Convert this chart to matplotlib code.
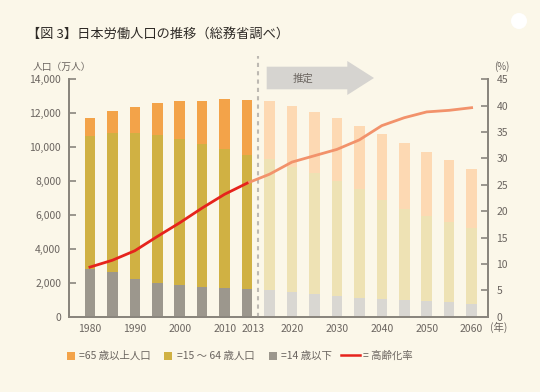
import numpy as np
import matplotlib.pyplot as plt
from matplotlib.patches import Rectangle, Polygon, Ellipse
from matplotlib.lines import Line2D

plt.rcParams['font.family'] = ['Noto Sans CJK JP', 'DejaVu Sans']

# data (万人 / %)
years = [1980, 1985, 1990, 1995, 2000, 2005, 2010, 2013,
         2015, 2020, 2025, 2030, 2035, 2040, 2045, 2050, 2055, 2060]
n_actual = 8
pop_0_14 = [2790, 2610, 2240, 1990, 1850, 1750, 1690, 1630,
            1590, 1455, 1335, 1220, 1120, 1045, 985, 925, 865, 770]
pop_15_64 = [7850, 8230, 8580, 8710, 8630, 8420, 8170, 7890,
             7680, 7345, 7110, 6775, 6385, 5830, 5375, 5005, 4730, 4435]
pop_65 = [1060, 1280, 1530, 1870, 2205, 2550, 2960, 3225,
          3415, 3630, 3630, 3690, 3730, 3885, 3870, 3770, 3650, 3475]
aging_rate = [9.4, 10.7, 12.5, 15.2, 17.8, 20.6, 23.2, 25.3,
              27.0, 29.3, 30.5, 31.7, 33.5, 36.2, 37.7, 38.8, 39.1, 39.6]
tick_years = ['1980', '1990', '2000', '2010', '2013',
              '2020', '2030', '2040', '2050', '2060']

bg = '#FBF7E9'
txt = '#6b6560'
axc = '#8a857d'
c65, c1564, c14 = '#F3A349', '#D0B143', '#9C978D'
l65, l1564, l14 = '#FDD9B3', '#EEE2B4', '#D9D7D2'
red, salmon = '#E6231C', '#F2926B'

fig = plt.figure(figsize=(5.4, 3.92), dpi=100, facecolor=bg)
ax = fig.add_axes([0.1287, 0.192, 0.775, 0.606], facecolor=bg)
ax2 = ax.twinx()

x = np.arange(len(years))
a = x < n_actual
f = ~a
p14 = np.array(pop_0_14)
p1564 = np.array(pop_15_64)
p65 = np.array(pop_65)
w = 0.47

ax.bar(x[a], p14[a], w, color=c14, zorder=2)
ax.bar(x[a], p1564[a], w, bottom=p14[a], color=c1564, zorder=2)
ax.bar(x[a], p65[a], w, bottom=(p14 + p1564)[a], color=c65, zorder=2)
ax.bar(x[f], p14[f], w, color=l14, zorder=2)
ax.bar(x[f], p1564[f], w, bottom=p14[f], color=l1564, zorder=2)
ax.bar(x[f], p65[f], w, bottom=(p14 + p1564)[f], color=l65, zorder=2)

rate = np.array(aging_rate)
ax2.plot(x[n_actual - 1:], rate[n_actual - 1:], color=salmon, lw=2, zorder=3)
ax2.plot(x[:n_actual], rate[:n_actual], color=red, lw=2, zorder=4)

ax.set_xlim(-0.91, len(years) - 0.27)
ax.set_ylim(0, 14000)
ax2.set_ylim(0, 45)

ax.set_yticks(np.arange(0, 14001, 2000))
ax.set_yticklabels([f'{v:,}' for v in range(0, 14001, 2000)])
ax2.set_yticks(np.arange(0, 46, 5))

# 2013 label nudged right so it does not touch 2010
tick_pos = [years.index(int(t)) + (0.25 if t == '2013' else 0) for t in tick_years]
ax.set_xticks(tick_pos)
ax.set_xticklabels(tick_years)

for s in ['top']:
    ax.spines[s].set_visible(False)
    ax2.spines[s].set_visible(False)
for s in ['left', 'right', 'bottom']:
    ax2.spines[s].set_color(axc)
    ax2.spines[s].set_linewidth(1.3)
    ax.spines[s].set_color(axc)
    ax.spines[s].set_linewidth(1.3)

ax.tick_params(axis='y', direction='in', length=5, width=1.2, color=axc,
               labelcolor=txt, labelsize=7.5, pad=6)
ax2.tick_params(axis='y', direction='in', length=5, width=1.2, color=axc,
                labelcolor=txt, labelsize=7.5, pad=6)
ax.tick_params(axis='x', length=0, labelcolor=txt, labelsize=7.5, pad=5)

# boundary between actual and estimate
ax.plot([n_actual - 0.5, n_actual - 0.5], [0, 15350], color='#BDB9B2',
        lw=1.5, ls=(0, (2, 2)), clip_on=False, zorder=5)

px = fig.dpi_scale_trans


def pt(xp, yp):
    return (xp / 100, (392 - yp) / 100)


arrow = [pt(266.7, 66.7), pt(347.3, 66.7), pt(347.3, 61), pt(374, 78),
         pt(347.3, 95), pt(347.3, 89.3), pt(266.7, 89.3)]
fig.add_artist(Polygon(arrow, closed=True, transform=px, facecolor='#D6D4D0',
                       edgecolor='none', zorder=6))
fig.text(303 / 540, 1 - 78.5 / 392, '推定', ha='center', va='center',
         fontsize=7.5, color=txt, zorder=7)

fig.add_artist(Ellipse(pt(519, 21), 0.16, 0.16, transform=px,
                       facecolor='white', edgecolor='none'))

fig.text(27 / 540, 1 - 34.5 / 392, '【図 3】日本労働人口の推移（総務省調べ）',
         ha='left', va='center', fontsize=9.5, color='#2e2a26')
fig.text(33 / 540, 1 - 66.5 / 392, '人口（万人）', ha='left', va='center',
         fontsize=7, color=txt)
fig.text(494 / 540, 1 - 66.5 / 392, '(%)', ha='left', va='center',
         fontsize=7, color=txt)
fig.text(490 / 540, 1 - 327.5 / 392, '(年)', ha='left', va='center',
         fontsize=7.5, color=txt)

# legend
ly = 355.5
items = [(66.7, c65, '=65 歳以上人口', 79),
         (164.3, c1564, '=15 ～ 64 歳人口', 176.7),
         (269, c14, '=14 歳以下', 281)]
for sx, col, label, tx in items:
    fig.add_artist(Rectangle(pt(sx, ly + 4), 0.08, 0.08, transform=px,
                             facecolor=col, edgecolor='none'))
    fig.text(tx / 540, 1 - ly / 392, label, ha='left', va='center',
             fontsize=7.5, color=txt)
fig.add_artist(Line2D([340.7 / 540, 360 / 540], [1 - 355 / 392, 1 - 355 / 392],
                      transform=fig.transFigure, color=red, lw=1.8))
fig.text(362.7 / 540, 1 - ly / 392, '= 高齢化率', ha='left', va='center',
         fontsize=7.5, color=txt)

fig.savefig('out.png', dpi=100, facecolor=bg)
